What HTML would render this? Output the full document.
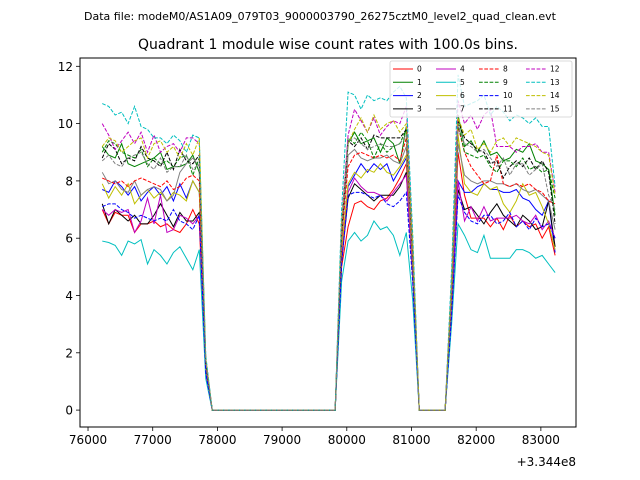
<!DOCTYPE html>
<html><head><meta charset="utf-8"><style>
body{margin:0;background:#fff;}
svg{display:block;font-family:"DejaVu Sans","Liberation Sans",sans-serif;}
</style></head><body>
<svg id="chart" width="640" height="480" viewBox="0 0 640 480">
<rect x="0" y="0" width="640" height="480" fill="#fff"/>
<text x="320" y="20" font-size="11" text-anchor="middle">Data file: modeM0/AS1A09_079T03_9000003790_26275cztM0_level2_quad_clean.evt</text>
<text x="328" y="49" font-size="14" text-anchor="middle">Quadrant 1 module wise count rates with 100.0s bins.</text>
<g id="series"></g>
<rect x="80" y="58" width="496" height="369" fill="none" stroke="#000" stroke-width="1"/>
<g id="axes"></g>
<g id="legend"></g>
<text x="576" y="466" font-size="12" text-anchor="end">+3.344e8</text>
</svg>
<script>
const t0 = 76220, step = 100;
const xTicks = [76000,77000,78000,79000,80000,81000,82000,83000];
const yTicks = [0,2,4,6,8,10,12];
const names = ["0","1","2","3","4","5","6","7","8","9","10","11","12","13","14","15"];
const colors = ["#ff0000","#008000","#0000ff","#000000","#bf00bf","#00bfbf","#bfbf00","#808080","#ff0000","#008000","#0000ff","#000000","#bf00bf","#00bfbf","#bfbf00","#808080"];
const Z20 = [0,0,0,0,0,0,0,0,0,0,0,0,0,0,0,0,0,0,0,0];
const Z5 = [0,0,0,0,0];
const s0 = [7.0,6.5,6.9,6.8,6.8,6.2,6.5,6.5,6.6,6.4,6.5,6.3,6.2,6.5,7.0,6.5, 1.3, ...Z20, 5.0, 6.4,7.2,7.3,7.1,7.0,7.3,7.4,7.7,8.1,8.6, 4.6, ...Z5, 3.5, 9.0,7.5,6.7,6.7,6.7,6.4,6.7,6.3,6.8,6.4,6.6,6.4,6.5,6.0,6.4,5.4];
const s1 = [9.2,8.9,8.8,9.3,8.6,8.5,8.6,8.7,8.8,9.0,8.4,8.5,8.5,8.6,8.9,8.3, 1.7, ...Z20, 6.0, 9.3,9.7,9.3,9.4,9.5,9.0,9.5,9.3,8.6,9.9, 5.3, ...Z5, 4.3, 10.3,9.2,9.4,9.0,9.4,8.9,9.0,8.7,8.8,9.1,9.0,9.3,8.7,8.6,8.4,6.8];
const s2 = [7.7,7.6,8.0,7.8,7.5,7.8,7.3,7.6,7.8,7.5,7.8,7.3,7.9,7.4,8.0,7.6, 1.5, ...Z20, 5.4, 7.8,8.2,8.6,8.3,8.6,8.4,8.6,8.0,8.4,8.8, 4.9, ...Z5, 3.6, 8.0,7.6,7.6,7.8,7.9,7.7,7.7,7.6,7.6,7.7,7.4,7.3,7.0,6.8,7.3,5.5];
const s3 = [7.2,6.5,7.0,6.8,6.6,6.8,6.5,6.5,6.8,7.2,6.8,6.4,6.9,6.6,6.6,6.9, 1.4, ...Z20, 5.2, 7.4,7.9,7.7,7.5,7.3,7.5,7.5,7.5,7.8,8.3, 4.7, ...Z5, 3.4, 7.7,7.0,7.1,6.8,6.5,6.9,7.2,6.8,6.6,6.4,6.8,6.6,6.3,6.4,7.3,5.7];
const s4 = [7.0,6.8,7.0,6.9,7.0,6.2,6.6,7.4,6.5,7.5,6.2,6.3,6.8,6.7,6.5,6.8, 1.3, ...Z20, 5.3, 7.6,8.1,7.8,7.6,7.6,7.5,7.3,7.6,7.9,8.2, 4.8, ...Z5, 3.5, 8.0,6.6,7.1,6.6,7.1,6.6,6.7,6.7,6.7,6.8,6.6,6.5,6.8,6.3,6.6,6.0];
const s5 = [5.9,5.85,5.75,5.4,5.9,5.8,5.95,5.1,5.6,5.4,5.1,5.5,5.7,5.3,4.9,5.6, 1.1, ...Z20, 4.5, 5.9,6.2,5.9,6.1,6.6,6.3,6.4,6.1,5.4,6.2, 3.8, ...Z5, 3.0, 6.5,6.1,5.6,5.5,6.1,5.3,5.3,5.3,5.3,5.6,5.6,5.5,5.3,5.4,5.1,4.8];
const s6 = [7.9,7.4,7.8,7.5,7.9,7.2,7.5,7.7,7.4,7.6,7.3,7.6,7.5,7.3,8.0,7.6, 1.5, ...Z20, 5.6, 7.9,8.3,8.1,8.4,8.3,8.6,8.3,8.2,8.5,8.9, 5.0, ...Z5, 3.9, 9.6,7.9,7.6,7.5,7.9,7.7,7.8,7.2,6.9,7.3,7.9,7.5,7.6,7.1,6.5,5.6];
const s7 = [8.3,7.9,8.0,7.7,7.6,8.0,7.5,7.7,7.8,7.7,7.3,7.5,8.3,8.6,8.8,8.5, 1.6, ...Z20, 5.9, 8.9,9.1,8.8,8.7,8.8,8.8,8.9,8.7,8.6,9.2, 5.1, ...Z5, 4.0, 9.3,8.2,8.0,7.9,8.0,8.0,7.9,7.9,7.8,7.9,7.7,7.6,7.7,7.5,7.3,6.3];
const s8 = [8.1,8.0,7.9,8.0,7.8,8.0,8.1,8.0,7.9,7.8,8.0,7.7,7.8,8.1,8.2,8.0, 1.6, ...Z20, 6.0, 8.5,8.9,9.0,8.9,8.8,8.9,8.8,8.9,8.7,9.5, 5.2, ...Z5, 4.0, 9.9,9.0,8.5,8.2,7.9,8.0,8.9,7.9,7.8,7.9,7.8,7.9,7.7,7.6,7.3,7.2];
const s9 = [9.0,9.4,9.3,9.0,8.9,8.8,9.1,8.5,8.8,8.6,8.7,8.5,8.8,8.9,8.2,8.8, 1.7, ...Z20, 6.3, 9.5,9.3,9.7,9.4,8.8,9.3,9.0,9.2,9.3,9.8, 5.4, ...Z5, 4.3, 10.0,9.0,8.9,8.8,8.9,8.5,8.3,8.7,8.7,8.5,8.8,8.4,8.5,8.3,8.4,7.4];
const s10 = [7.1,7.2,7.2,7.0,6.9,6.7,6.8,6.7,6.6,6.7,6.6,7.0,6.6,6.5,6.3,6.8, 1.3, ...Z20, 5.1, 7.5,7.6,7.6,7.5,7.4,7.5,7.2,7.1,7.3,7.6, 4.4, ...Z5, 3.3, 7.5,6.9,6.6,6.5,6.8,6.8,6.5,6.6,6.9,6.4,6.6,6.3,6.7,6.4,6.5,6.0];
const s11 = [8.8,9.3,9.1,8.6,8.8,8.7,9.2,8.8,8.7,8.5,9.0,8.4,9.1,8.7,8.6,8.9, 1.7, ...Z20, 6.2, 9.4,9.2,9.5,9.1,9.6,9.5,9.5,9.5,9.5,9.8, 5.5, ...Z5, 4.3, 10.1,9.5,9.3,9.1,9.0,8.6,8.7,8.1,8.5,8.7,8.5,8.8,8.4,8.7,8.3,6.5];
const s12 = [10.0,9.6,9.1,9.4,9.7,9.3,9.7,9.0,9.6,9.0,9.2,9.3,9.0,9.5,9.5,9.3, 1.8, ...Z20, 6.6, 9.6,10.5,10.1,9.7,10.2,9.6,9.9,10.1,10.0,10.6, 5.8, ...Z5, 4.6, 10.8,10.0,10.3,9.8,10.3,10.5,9.2,9.2,9.2,9.0,9.2,9.2,9.3,9.0,9.0,7.6];
const s13 = [10.7,10.6,10.3,10.4,10.0,10.6,9.9,9.8,9.5,9.5,9.3,9.6,9.4,9.0,9.6,9.5, 1.9, ...Z20, 7.0, 11.1,11.0,10.5,11.0,10.8,10.9,10.8,11.1,11.3,10.9, 6.1, ...Z5, 4.9, 11.7,10.6,10.7,10.8,11.0,10.3,10.6,10.4,10.1,10.3,10.2,10.0,10.2,9.9,9.9,7.8];
const s14 = [9.2,9.5,9.4,9.0,9.2,9.4,9.5,8.8,9.3,9.4,9.0,9.2,8.8,9.3,8.9,9.5, 1.8, ...Z20, 6.5, 9.3,9.8,10.2,9.7,10.3,9.8,10.0,10.1,9.7,10.0, 5.7, ...Z5, 4.4, 10.2,9.6,9.8,9.1,9.3,9.0,9.4,9.5,9.2,9.5,9.4,9.3,9.2,9.0,8.9,7.5];
const s15 = [8.7,8.9,8.6,8.5,8.8,8.9,9.0,8.6,8.4,8.8,8.3,8.5,8.5,8.9,8.4,8.6, 1.7, ...Z20, 6.2, 9.4,9.5,9.3,9.1,9.2,9.3,9.2,9.2,9.3,9.6, 5.4, ...Z5, 4.2, 9.9,9.3,9.2,9.0,9.1,8.8,8.5,8.8,8.2,8.6,8.6,8.2,8.4,8.6,7.5,7.0];
const seriesValues = [s0,s1,s2,s3,s4,s5,s6,s7,s8,s9,s10,s11,s12,s13,s14,s15];

const NS = "http://www.w3.org/2000/svg";
const PL = 80, PR = 576, PT = 58, PB = 427;
const xMin = 75876, xMax = 83543, yMin = -0.59, yMax = 12.29;
function xs(t){ return PL + (t - xMin) / (xMax - xMin) * (PR - PL); }
function ys(v){ return PB - (v - yMin) / (yMax - yMin) * (PB - PT); }
function mk(tag, attrs, parent){ const e = document.createElementNS(NS, tag); for (const k in attrs) e.setAttribute(k, attrs[k]); parent.appendChild(e); return e; }

const sg = document.getElementById('series');
seriesValues.forEach((vals, i) => {
  const pts = vals.map((v, j) => xs(t0 + j*step).toFixed(2) + "," + ys(v).toFixed(2)).join(" ");
  const pl = mk('polyline', {points: pts, fill: 'none', stroke: colors[i], 'stroke-width': 1}, sg);
  if (i >= 8) pl.setAttribute('stroke-dasharray', '3.7,1.6');
  
  
});

const ax = document.getElementById('axes');
xTicks.forEach(t => {
  const x = xs(t);
  const ln = mk('line', {x1: x, x2: x, y1: PB, y2: PB + 4, stroke: '#000', 'stroke-width': 0.8}, ax);
  
  
  const tx = mk('text', {x: x, y: PB + 17, 'font-size': 12, 'text-anchor': 'middle'}, ax);
  tx.textContent = t;
  
  
});
yTicks.forEach(v => {
  const y = ys(v);
  const ln = mk('line', {x1: PL - 4, x2: PL, y1: y, y2: y, stroke: '#000', 'stroke-width': 0.8}, ax);
  
  
  const tx = mk('text', {x: PL - 7, y: y + 4.5, 'font-size': 12, 'text-anchor': 'end'}, ax);
  tx.textContent = v;
  
  
});

const lg = document.getElementById('legend');
const box = mk('rect', {x: 390, y: 61, width: 182, height: 56, rx: 2, fill: '#fff', 'fill-opacity': 0.8, stroke: '#d0d0d0', 'stroke-width': 0.8}, lg);


const colX = [393, 436, 479, 526];
names.forEach((n, i) => {
  const c = Math.floor(i / 4), r = i % 4;
  const y = 69 + r * 13.3;
  const ln = mk('line', {x1: colX[c], x2: colX[c] + 20, y1: y, y2: y, stroke: colors[i], 'stroke-width': 1}, lg);
  if (i >= 8) ln.setAttribute('stroke-dasharray', '3.7,1.6');
  
  
  const tx = mk('text', {x: colX[c] + 24, y: y + 2.5, 'font-size': 7.5}, lg);
  tx.textContent = n;
  
  
});
</script>
</body></html>
